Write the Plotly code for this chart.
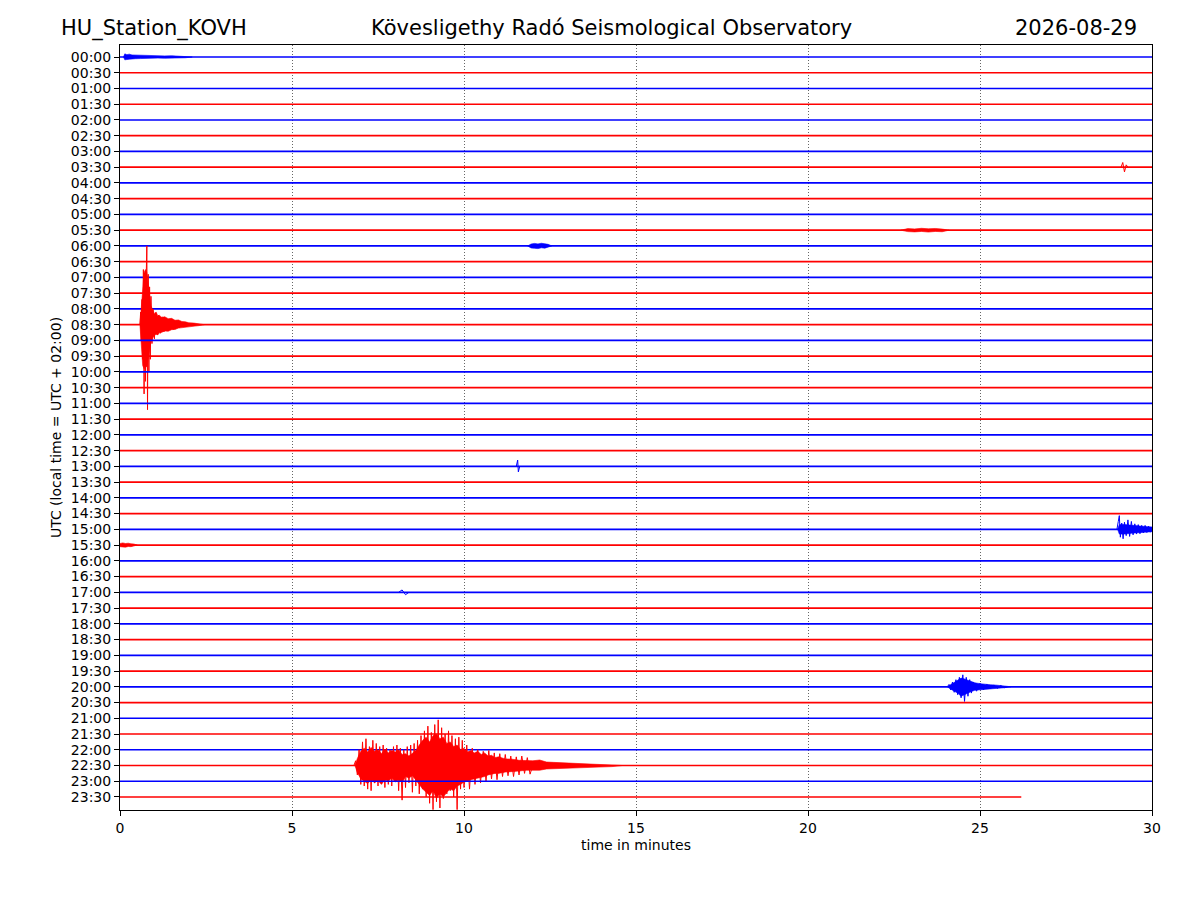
import plotly.graph_objects as go

# row labels (UTC start of each 30 minute line)
row_labels = ["00:00", "00:30", "01:00", "01:30", "02:00", "02:30", "03:00", "03:30",
              "04:00", "04:30", "05:00", "05:30", "06:00", "06:30", "07:00", "07:30",
              "08:00", "08:30", "09:00", "09:30", "10:00", "10:30", "11:00", "11:30",
              "12:00", "12:30", "13:00", "13:30", "14:00", "14:30", "15:00", "15:30",
              "16:00", "16:30", "17:00", "17:30", "18:00", "18:30", "19:00", "19:30",
              "20:00", "20:30", "21:00", "21:30", "22:00", "22:30", "23:00", "23:30"]
row_colors = ["#0000ff", "#ff0000"]
full_line = 30.0
last_line_end = 26.2

# spiky parts of the events: time in minutes, amplitude in line spacings (up = positive)
ev_0330_t = [29.1, 29.15, 29.2, 29.25, 29.3]
ev_0330_y = [0.0, 0.3, -0.3, 0.15, 0.0]

ev_0830_t = [0.58, 0.60, 0.62, 0.64, 0.66, 0.68, 0.70, 0.72, 0.74, 0.76, 0.78, 0.80,
             0.82, 0.84, 0.86, 0.88, 0.90, 0.93, 0.96, 1.00, 1.04, 1.08, 1.12, 1.17,
             1.22, 1.28, 1.34, 1.40, 1.47, 1.55, 1.63, 1.72, 1.82, 1.92, 2.02]
ev_0830_y = [0.0, 0.8, -1.0, 1.6, -2.2, 3.5, -4.4, 3.0, -3.6, 2.8, 5.0, -5.4, 3.2, -3.0,
             2.4, -2.2, 1.8, -1.2, 1.0, -0.9, 0.75, -0.65, 0.6, -0.55, 0.5, -0.45, 0.42,
             -0.38, 0.34, -0.3, 0.26, -0.2, 0.15, -0.1, 0.0]

ev_1300_t = [11.52, 11.56, 11.58, 11.62]
ev_1300_y = [0.0, 0.4, -0.35, 0.0]

ev_1500_t = [28.98, 29.02, 29.05, 29.08, 29.12, 29.16, 29.2, 29.25, 29.3, 29.35, 29.4,
             29.45, 29.5, 29.55, 29.6, 29.65, 29.7, 29.75, 29.8, 29.85, 29.9, 29.95, 30.0]
ev_1500_y = [0.0, 0.5, 0.87, -0.5, 0.4, -0.6, 0.45, -0.4, 0.6, -0.45, 0.5, -0.35, 0.35,
             -0.3, 0.3, -0.28, 0.25, -0.22, 0.25, -0.2, 0.2, -0.18, 0.15]

ev_1700_t = [8.1, 8.2, 8.3, 8.4]
ev_1700_y = [0.0, 0.15, -0.15, 0.0]

ev_2000_t = [24.05, 24.1, 24.15, 24.2, 24.25, 24.3, 24.35, 24.4, 24.45, 24.5, 24.55, 24.6,
             24.65, 24.7, 24.75, 24.8, 24.9, 25.0, 25.1, 25.2, 25.3, 25.4, 25.5, 25.6,
             25.7, 25.8]
ev_2000_y = [0.0, 0.15, -0.2, 0.3, -0.35, 0.45, -0.5, 0.6, -0.7, 0.76, -0.93, 0.6, -0.6,
             0.45, -0.4, 0.3, -0.28, 0.22, -0.2, 0.16, -0.14, 0.12, -0.1, 0.08, -0.06, 0.0]

ev_2230_t = [6.80, 6.85, 6.90, 6.95, 7.00, 7.05, 7.10, 7.15, 7.20, 7.25, 7.30, 7.35, 7.40,
             7.45, 7.50, 7.55, 7.60, 7.65, 7.70, 7.75, 7.80, 7.85, 7.90, 7.95, 8.00, 8.05,
             8.10, 8.15, 8.20, 8.25, 8.30, 8.35, 8.40, 8.45, 8.50, 8.55, 8.60, 8.65, 8.70,
             8.75, 8.80,
             8.85, 8.90, 8.95, 9.00, 9.05, 9.10, 9.15, 9.20, 9.25, 9.30, 9.35, 9.40, 9.45,
             9.50, 9.55, 9.60, 9.65, 9.70, 9.75, 9.80, 9.85, 9.90, 9.95, 10.00,
             10.08, 10.16, 10.24, 10.32, 10.40, 10.48, 10.56, 10.64, 10.72, 10.80, 10.88,
             10.96, 11.04, 11.12, 11.20, 11.28, 11.36, 11.44, 11.52, 11.60, 11.68, 11.76,
             11.84, 11.92, 12.00]
ev_2230_y = [0.0, 0.3, -0.6, 1.0, -1.2, 1.5, -1.3, 1.7, -1.5, 1.2, -1.6, 1.6, -1.1, 1.4,
             -1.3, 1.2, -1.0, 1.3, -1.4, 1.1, -1.2, 1.0, -1.3, 1.2, -0.9, 1.3, -1.6, 1.1,
             -2.2, 1.0, -1.4, 1.2, -1.1, 1.3, -1.7, 1.4, -1.3, 1.6, -1.8, 1.9, -1.5,
             2.2, -2.0, 2.5, -2.4, 2.1, -2.8, 2.6, -2.3, 2.9, -2.7, 2.4, -2.1, 2.0, -1.8,
             2.2, -1.6, 1.9, -2.0, 1.7, -2.8, 1.8, -1.5, 1.6, -1.4,
             1.3, -1.5, 1.1, -1.2, 1.0, -1.1, 0.9, -1.0, 0.95, -0.85, 0.8, -0.9, 0.75,
             -0.7, 0.7, -0.65, 0.6, -0.7, 0.55, -0.6, 0.6, -0.5, 0.5, -0.55, 0.0]

# dense (filled) part of the events: time, upper and lower envelope in line spacings
env_0000_t = [0.1, 0.14, 0.2, 0.27, 0.35, 0.45, 0.6, 0.75, 0.9, 1.1, 1.3, 1.5, 1.7, 1.9, 2.1]
env_0000_hi = [0.0, 0.2, 0.15, 0.18, 0.13, 0.12, 0.1, 0.11, 0.08, 0.09, 0.07, 0.08, 0.06,
               0.06, 0.0]
env_0000_lo = [0.0, -0.18, -0.16, -0.14, -0.15, -0.11, -0.1, -0.09, -0.1, -0.07, -0.08,
               -0.06, -0.07, -0.05, 0.0]

env_0530_t = [22.7, 22.9, 23.1, 23.3, 23.5, 23.7, 23.9, 24.1]
env_0530_hi = [0.0, 0.1, 0.08, 0.12, 0.09, 0.11, 0.07, 0.0]
env_0530_lo = [0.0, -0.09, -0.11, -0.08, -0.12, -0.08, -0.1, 0.0]

env_0600_t = [11.85, 11.95, 12.05, 12.15, 12.25, 12.35, 12.45, 12.55]
env_0600_hi = [0.0, 0.12, 0.16, 0.13, 0.17, 0.12, 0.1, 0.0]
env_0600_lo = [0.0, -0.13, -0.15, -0.17, -0.12, -0.14, -0.09, 0.0]

env_0830_t = [0.58, 0.62, 0.66, 0.70, 0.74, 0.78, 0.82, 0.86, 0.90, 0.95, 1.0, 1.05, 1.1,
              1.15, 1.2, 1.3, 1.4, 1.5, 1.6, 1.7, 1.8, 1.9, 2.0, 2.15, 2.3, 2.45]
env_0830_hi = [0.0, 1.2, 2.5, 3.3, 3.5, 3.3, 2.6, 1.8, 1.2, 0.95, 0.7, 0.8, 0.55, 0.6,
               0.45, 0.5, 0.38, 0.4, 0.28, 0.3, 0.2, 0.18, 0.12, 0.1, 0.07, 0.0]
env_0830_lo = [0.0, -1.5, -2.6, -2.8, -2.6, -2.7, -2.3, -1.6, -1.1, -0.85, -0.7, -0.6,
               -0.65, -0.5, -0.5, -0.4, -0.42, -0.32, -0.3, -0.22, -0.2, -0.15, -0.12,
               -0.09, -0.06, 0.0]

env_1500_t = [29.0, 29.05, 29.2, 29.4, 29.6, 29.8, 30.0]
env_1500_hi = [0.0, 0.3, 0.3, 0.25, 0.2, 0.18, 0.15]
env_1500_lo = [0.0, -0.3, -0.3, -0.25, -0.2, -0.18, -0.15]

env_1530_t = [0.0, 0.08, 0.16, 0.24, 0.32, 0.4, 0.5]
env_1530_hi = [0.1, 0.14, 0.1, 0.12, 0.08, 0.07, 0.0]
env_1530_lo = [-0.1, -0.12, -0.13, -0.09, -0.1, -0.06, 0.0]

env_2000_t = [24.05, 24.15, 24.25, 24.35, 24.45, 24.55, 24.65, 24.75, 24.85, 25.0, 25.15,
              25.3, 25.5, 25.7, 25.9]
env_2000_hi = [0.0, 0.15, 0.3, 0.45, 0.55, 0.5, 0.4, 0.3, 0.25, 0.2, 0.15, 0.13, 0.1,
               0.07, 0.0]
env_2000_lo = [0.0, -0.15, -0.3, -0.4, -0.6, -0.55, -0.4, -0.3, -0.22, -0.18, -0.15,
               -0.12, -0.1, -0.06, 0.0]

env_2230_t = [6.83, 6.9, 7.0, 7.1, 7.2, 7.3, 7.4, 7.5, 7.6, 7.7, 7.8, 7.9, 8.0, 8.1, 8.2,
              8.3, 8.4, 8.5, 8.6, 8.7, 8.8, 8.9, 9.0, 9.1, 9.2, 9.3, 9.4, 9.5, 9.6, 9.7,
              9.8, 9.9, 10.0, 10.1, 10.2, 10.3, 10.4, 10.5, 10.6, 10.7, 10.8, 10.9, 11.0,
              11.2, 11.4, 11.6, 11.8, 12.0, 12.2, 12.4, 12.6, 12.8, 13.0, 13.2, 13.4, 13.6,
              13.8, 14.0, 14.3, 14.6]
env_2230_hi = [0.0, 0.45, 0.9, 1.1, 0.85, 1.15, 0.9, 1.0, 0.75, 1.05, 0.8, 0.95, 0.85,
               1.0, 0.7, 0.75, 0.6, 0.8, 0.95, 1.3, 1.6, 1.8,
               1.5, 1.9, 2.0, 1.7, 1.8, 1.4, 1.5, 1.2, 1.3, 1.0, 1.1, 0.85, 0.95, 0.8, 0.9,
               0.7, 0.8, 0.6, 0.65, 0.5,
               0.55, 0.42, 0.4, 0.33, 0.3, 0.3, 0.35, 0.22, 0.2, 0.18, 0.17, 0.15, 0.16,
               0.14, 0.11, 0.1, 0.07, 0.0]
env_2230_lo = [0.0, -0.45, -0.85, -1.0, -1.15, -0.9, -1.1, -0.95, -1.2, -0.9, -1.0, -0.8,
               -1.05, -0.9, -1.1, -0.7, -0.8, -0.65, -0.9, -1.2, -1.5, -1.7,
               -1.9, -1.6, -2.1, -1.8, -2.0, -1.7, -1.5, -1.6, -1.3, -1.2, -1.05, -1.0,
               -0.9, -0.85, -0.8, -0.75, -0.7, -0.6, -0.55, -0.5,
               -0.5, -0.42, -0.38, -0.35, -0.3, -0.28, -0.3, -0.22, -0.2, -0.18, -0.17,
               -0.15, -0.15, -0.13, -0.11, -0.1, -0.07, 0.0]

spikes = {
    7: (ev_0330_t, ev_0330_y),
    17: (ev_0830_t, ev_0830_y),
    26: (ev_1300_t, ev_1300_y),
    30: (ev_1500_t, ev_1500_y),
    34: (ev_1700_t, ev_1700_y),
    40: (ev_2000_t, ev_2000_y),
    45: (ev_2230_t, ev_2230_y),
}
envelopes = {
    0: (env_0000_t, env_0000_hi, env_0000_lo),
    11: (env_0530_t, env_0530_hi, env_0530_lo),
    12: (env_0600_t, env_0600_hi, env_0600_lo),
    17: (env_0830_t, env_0830_hi, env_0830_lo),
    30: (env_1500_t, env_1500_hi, env_1500_lo),
    31: (env_1530_t, env_1530_hi, env_1530_lo),
    40: (env_2000_t, env_2000_hi, env_2000_lo),
    45: (env_2230_t, env_2230_hi, env_2230_lo),
}

fig = go.Figure()

n_rows = len(row_labels)
for i in range(n_rows):
    color = row_colors[i % 2]
    end = last_line_end if i == n_rows - 1 else full_line
    # the quiet trace itself
    fig.add_trace(go.Scatter(
        x=[0.0, end], y=[-i, -i], mode="lines",
        line=dict(color=color, width=1.7),
        hoverinfo="skip", showlegend=False))
    if i in envelopes:
        et, hi, lo = envelopes[i]
        fig.add_trace(go.Scatter(
            x=et + et[::-1], y=[-i + h for h in hi] + [-i + l for l in lo[::-1]],
            mode="lines", fill="toself", fillcolor=color,
            line=dict(color=color, width=0.6),
            hoverinfo="skip", showlegend=False))
    if i in spikes:
        st, sy = spikes[i]
        fig.add_trace(go.Scatter(
            x=st, y=[-i + a for a in sy], mode="lines",
            line=dict(color=color, width=1.0, simplify=False),
            hoverinfo="skip", showlegend=False))

font = "DejaVu Sans, Verdana, sans-serif"

fig.update_layout(
    width=1192, height=892,
    margin=dict(l=112, r=48, t=37, b=90),
    plot_bgcolor="white", paper_bgcolor="white",
    font=dict(family=font, size=14, color="black"),
    showlegend=False,
    annotations=[
        dict(text="HU_Station_KOVH", xref="paper", yref="paper", x=-0.0591, y=1.0222,
             xanchor="left", yanchor="middle", showarrow=False, font=dict(size=21)),
        dict(text="Kövesligethy Radó Seismological Observatory", xref="paper", yref="paper",
             x=0.4758, y=1.0222, xanchor="center", yanchor="middle", showarrow=False,
             font=dict(size=21)),
        dict(text="2026-08-29", xref="paper", yref="paper", x=0.9875, y=1.0222,
             xanchor="right", yanchor="middle", showarrow=False, font=dict(size=21)),
    ],
)

fig.update_xaxes(
    range=[0, 30], tickvals=[0, 5, 10, 15, 20, 25, 30],
    ticks="outside", ticklen=5, tickwidth=1, tickcolor="black",
    showline=True, linecolor="black", linewidth=1, mirror=True,
    showgrid=True, gridcolor="#666666", gridwidth=0.8, griddash="1px,2px",
    zeroline=False,
    title=dict(text="time in minutes", font=dict(size=14), standoff=5),
)
fig.update_yaxes(
    range=[-(n_rows - 1) - 0.826, 0.762],
    tickvals=[-i for i in range(n_rows)], ticktext=row_labels,
    ticks="outside", ticklen=5, tickwidth=1, tickcolor="black",
    showline=True, linecolor="black", linewidth=1, mirror=True,
    showgrid=False, zeroline=False,
    title=dict(text="UTC (local time = UTC + 02:00)", font=dict(size=14), standoff=5),
)

fig.write_html("out.html")
